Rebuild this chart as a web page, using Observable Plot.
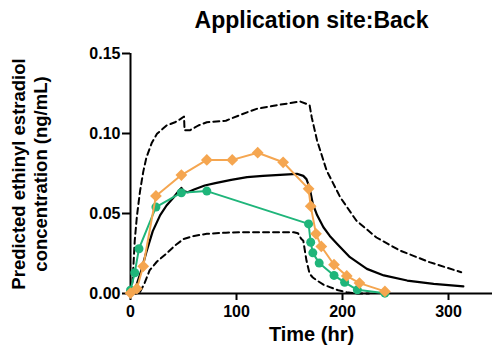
<!DOCTYPE html>
<html>
<head>
<meta charset="utf-8">
<script src="https://cdn.jsdelivr.net/npm/d3@7"></script>
<script src="https://cdn.jsdelivr.net/npm/@observablehq/plot@0.6"></script>
<style>
  html, body { margin: 0; padding: 0; background: #fff; }
</style>
</head>
<body>
<div id="chart"></div>
<script>
const titleText = "Application site:Back";
const yLabel1 = "Predicted ethinyl estradiol";
const yLabel2 = "concentration (ng/mL)";
const xLabel = "Time (hr)";
const xTicks = [0, 100, 200, 300];
const yTicks = [0, 0.05, 0.10, 0.15];

// Observed (orange diamonds)
const orangeTime = [0, 6, 12, 24, 48, 72, 96, 120, 144, 168, 170, 175, 180, 192, 204, 216, 240];
const orangeConc = [0.0003, 0.003, 0.017, 0.061, 0.074, 0.0835, 0.0835, 0.088, 0.082, 0.0654, 0.0546, 0.0373, 0.0294, 0.018, 0.011, 0.0065, 0.0013];

// Observed (green circles)
const greenTime = [0, 4, 8, 24, 48, 72, 168, 170, 172, 178, 192, 202, 214, 240];
const greenConc = [0.002, 0.013, 0.028, 0.054, 0.063, 0.064, 0.0435, 0.032, 0.0254, 0.019, 0.0113, 0.007, 0.0023, 0.0002];

// Model prediction (solid)
const modelTime = [0, 3, 6, 10, 15, 21, 28, 34, 40, 46, 48, 50, 54, 60, 70, 80, 95, 110, 125, 141, 157, 163, 166, 169, 172, 176, 182, 188, 195, 207, 223, 239, 261, 286, 314];
const modelConc = [0, 0.001, 0.006, 0.014, 0.026, 0.039, 0.049, 0.055, 0.0595, 0.0645, 0.066, 0.064, 0.0633, 0.065, 0.0675, 0.069, 0.071, 0.0727, 0.0735, 0.0742, 0.0748, 0.0735, 0.0715, 0.066, 0.056, 0.049, 0.0414, 0.036, 0.031, 0.0227, 0.0154, 0.0113, 0.0081, 0.006, 0.0044];

// Upper bound (dashed)
const upperTime = [0, 2, 4, 6, 9, 12, 15, 20, 25, 34, 42, 47, 50.5, 51, 56, 64, 72, 90, 105, 119, 141, 160, 166, 169, 171, 176, 185, 198, 213, 232, 254, 282, 312];
const upperConc = [0, 0.008, 0.033, 0.048, 0.064, 0.076, 0.085, 0.094, 0.0998, 0.105, 0.107, 0.109, 0.1106, 0.102, 0.102, 0.105, 0.107, 0.108, 0.112, 0.1154, 0.118, 0.12, 0.1185, 0.1175, 0.110, 0.0956, 0.0769, 0.060, 0.0456, 0.035, 0.0269, 0.0196, 0.0133];

// Lower bound (dashed)
const lowerTime = [0, 6, 9, 13, 18, 25, 34, 42, 50, 60, 72, 90, 103, 130, 154, 158, 161, 163, 166, 169, 172, 176, 182, 188, 196, 204, 214, 225];
const lowerConc = [0, 0, 0.001, 0.006, 0.0144, 0.020, 0.025, 0.030, 0.034, 0.036, 0.0373, 0.038, 0.0383, 0.0383, 0.0383, 0.0377, 0.0342, 0.033, 0.0206, 0.0123, 0.010, 0.0081, 0.0055, 0.004, 0.002, 0.0008, 0, 0];

const toRows = (t, c) => t.map((d, i) => ({t: d, c: c[i]}));
const orange = toRows(orangeTime, orangeConc);
const green = toRows(greenTime, greenConc);
const model = toRows(modelTime, modelConc);
const upper = toRows(upperTime, upperConc);
const lower = toRows(lowerTime, lowerConc);

const font = "'Liberation Sans', Arial, sans-serif";
const orangeColor = "#f5a650";
const greenColor = "#1fb57a";

const chart = Plot.plot({
  width: 492,
  height: 353,
  marginLeft: 130,
  marginRight: 0,
  marginTop: 53,
  marginBottom: 60,
  style: {fontFamily: font, fontSize: "16px", fontWeight: "bold", color: "#000", background: "#fff", overflow: "visible"},
  x: {domain: [0, 341.5]},
  y: {domain: [0, 0.15]},
  marks: [
    Plot.axisX({ticks: xTicks, tickSize: 7, tickPadding: 5, label: null, strokeWidth: 2, fontSize: 16, fontWeight: "bold"}),
    Plot.axisY({ticks: yTicks, tickSize: 8, tickPadding: 2, label: null, strokeWidth: 2, tickFormat: d3.format(".2f"), fontSize: 16, fontWeight: "bold"}),
    Plot.ruleY([0], {stroke: "#000", strokeWidth: 2}),
    Plot.ruleX([0], {stroke: "#000", strokeWidth: 2}),
    Plot.line(upper, {x: "t", y: "c", stroke: "#000", strokeWidth: 2, strokeDasharray: "6,4"}),
    Plot.line(lower, {x: "t", y: "c", stroke: "#000", strokeWidth: 2, strokeDasharray: "6,4"}),
    Plot.line(model, {x: "t", y: "c", stroke: "#000", strokeWidth: 2.2}),
    Plot.line(green, {x: "t", y: "c", stroke: greenColor, strokeWidth: 2}),
    Plot.dot(green, {x: "t", y: "c", r: 4.5, fill: greenColor, stroke: "none"}),
    Plot.line(orange, {x: "t", y: "c", stroke: orangeColor, strokeWidth: 2}),
    Plot.dot(orange, {x: "t", y: "c", r: 5.3, symbol: "diamond2", fill: orangeColor, stroke: "none"}),
    Plot.text([titleText], {text: d => d, frameAnchor: "top", dy: -42, fontSize: 23, fontWeight: "bold", fill: "#000"}),
    Plot.text([xLabel], {text: d => d, frameAnchor: "bottom", dy: 47, fontSize: 20, fontWeight: "bold", fill: "#000"})
  ]
});

// Rotated two-line y-axis label
const svg = d3.select(chart);
[[yLabel1, 19], [yLabel2, 41]].forEach(([txt, px]) => {
  svg.append("text")
    .attr("transform", `translate(${px},174) rotate(-90)`)
    .attr("text-anchor", "middle")
    .attr("dy", "0.35em")
    .attr("font-family", font)
    .attr("font-size", 18.5)
    .attr("font-weight", "bold")
    .attr("fill", "#000")
    .text(txt);
});

document.getElementById("chart").appendChild(chart);
</script>
</body>
</html>
